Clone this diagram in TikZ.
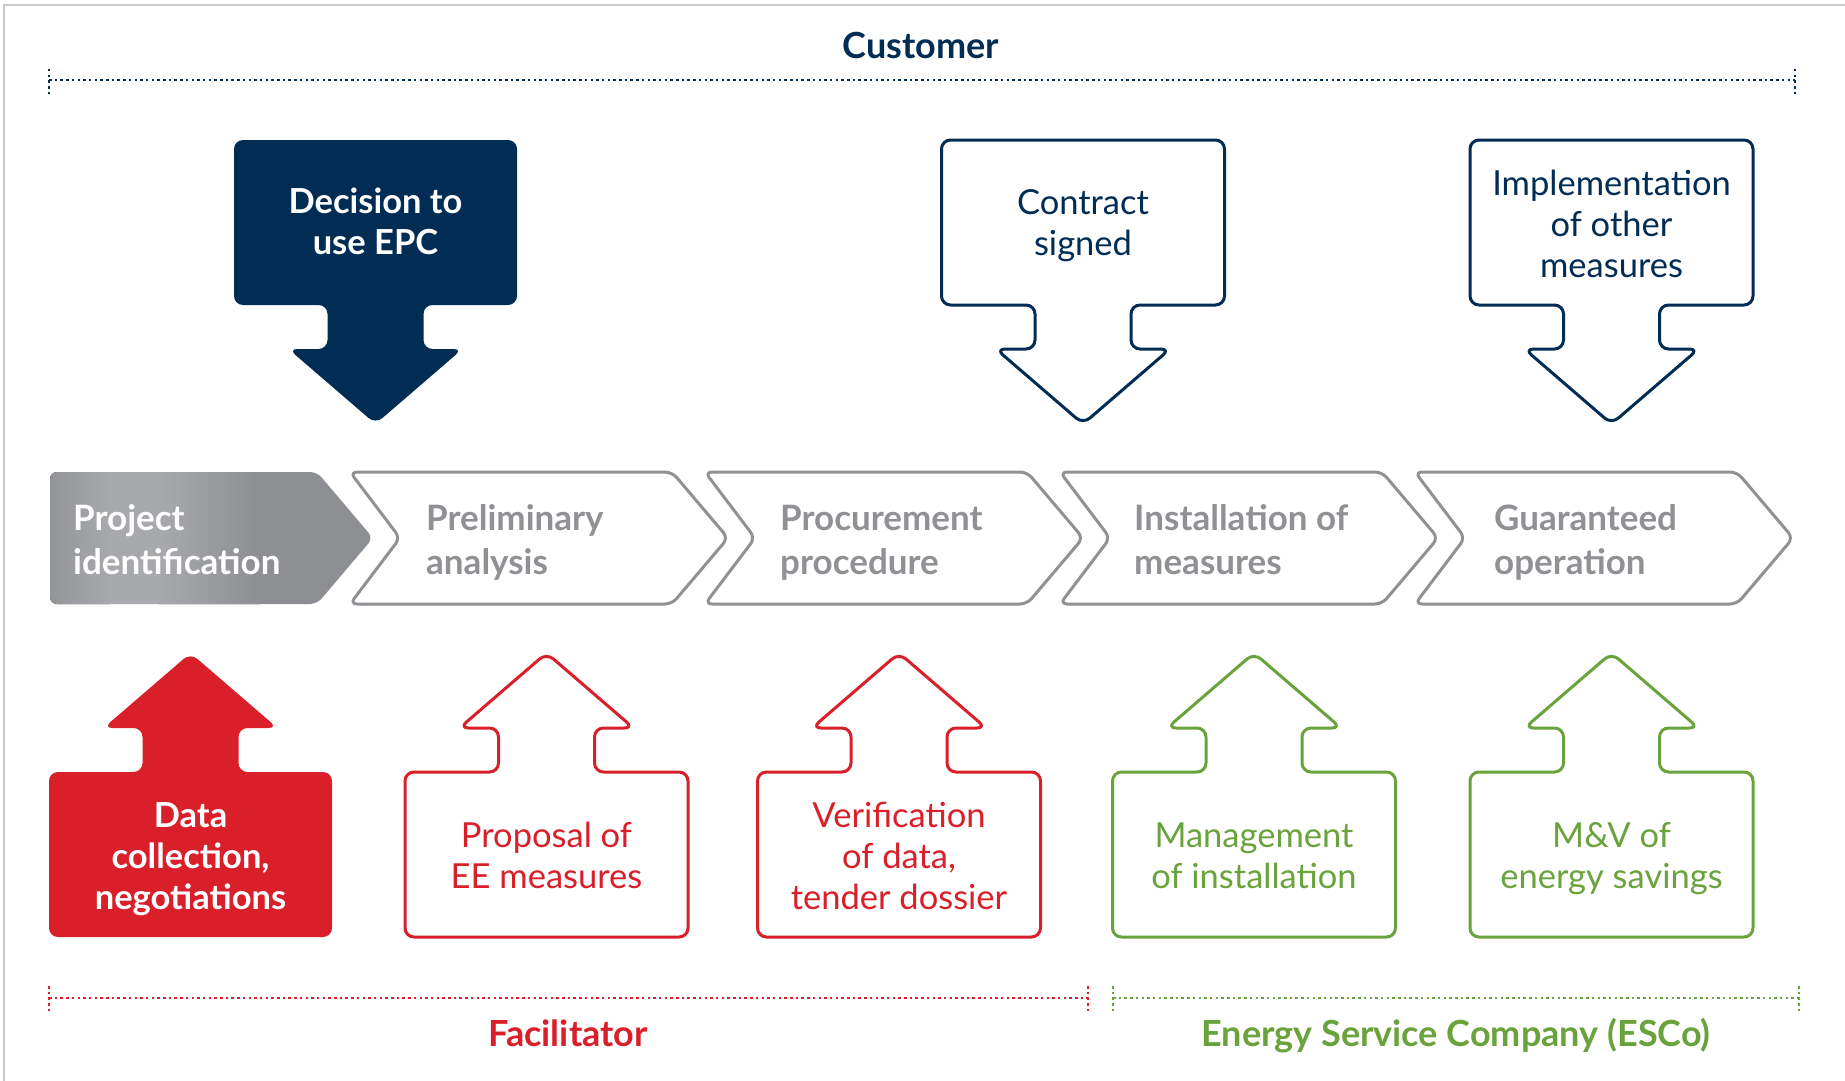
\documentclass[tikz,border=0pt]{standalone}
\usepackage{fontspec}
\setmainfont{Lato}
\definecolor{navy}{HTML}{012D55}
\definecolor{ered}{HTML}{D9202A}
\definecolor{egreen}{HTML}{6AA33C}
\definecolor{cgray}{HTML}{909195}
\definecolor{bgray}{HTML}{C9C9C9}
\definecolor{pg1}{HTML}{939498}
\definecolor{pg2}{HTML}{A8A9AC}
\definecolor{pg3}{HTML}{8E8F93}
\usetikzlibrary{calc}
\begin{document}
\begin{tikzpicture}[x=1pt,y=-1pt,
  outl/.style={line width=3pt, line join=round},
  downbox/.pic={\path[pic actions, rounded corners=9pt] (-141.5,0) -- (141.5,0) -- (141.5,165) -- (48,165) -- (48,209) -- (87,209) -- (0,284) -- (-87,209) -- (-48,209) -- (-48,165) -- (-141.5,165) -- cycle;},
  upbox/.pic={\path[pic actions, rounded corners=9pt] (0,0) -- (87,75) -- (48,75) -- (48,119) -- (141.5,119) -- (141.5,284) -- (-141.5,284) -- (-141.5,119) -- (-48,119) -- (-48,75) -- (-87,75) -- cycle;},
  chev/.pic={\path[pic actions, rounded corners=7pt] (0,0) -- (322,0) -- (378,66) -- (322,132) -- (0,132) -- (50,66) -- cycle;},
  boxlbl/.style={align=center, inner sep=0pt, font=\fontsize{34.5}{41}\selectfont},
  boxlblb/.style={align=center, inner sep=0pt, font=\fontsize{34.5}{41}\selectfont\bfseries},
  chevlbl/.style={align=left, anchor=west, inner sep=0pt, text=cgray, font=\fontsize{35}{44}\selectfont\bfseries},
  title/.style={inner sep=0pt, anchor=base, font=\fontsize{36}{40}\selectfont\bfseries},
  dotline/.style={line width=2.3pt, dash pattern=on 2.5pt off 3.2pt},
]
\useasboundingbox (0,0) rectangle (1845,1081);
\fill[white] (0,0) rectangle (1845,1081);
% frame
\draw[bgray, line width=2.5pt] (4,1081) -- (4,5) -- (1845,5);

% Customer
\node[title, text=navy] (customer) at (921,59) {Customer};
\coordinate (cl) at (49,80);
\coordinate (cr) at (1795,80);
\draw[dotline, navy] (cl) -- (cr);
\draw[dotline, navy] ([yshift=11pt]cl) -- ([yshift=-14pt]cl);
\draw[dotline, navy] ([yshift=11pt]cr) -- ([yshift=-14pt]cr);

% top boxes
\pic[fill=navy] at (375.5,140) {downbox};
\node[boxlblb, text=white] (decision) at (375.5,226) {Decision to\strut\\use EPC\strut};
\pic[outl, draw=navy, fill=white] at (1083,140) {downbox};
\node[boxlbl, text=navy] (contract) at (1083,227) {Contract\strut\\signed\strut};
\pic[outl, draw=navy, fill=white] at (1611.5,140) {downbox};
\node[boxlbl, text=navy] (implement) at (1611.5,228) {Implementation\strut\\of other\strut\\measures\strut};

% chevrons
\begin{scope}
\clip[rounded corners=7pt] (50,472) -- (317,472) -- (373,538) -- (317,604) -- (50,604) -- cycle;
\fill[left color=pg1, right color=pg2, shading=axis] (48,470) rectangle (110,606);
\fill[pg2] (109,470) rectangle (160,606);
\fill[left color=pg2, right color=pg3, shading=axis] (159,470) rectangle (260,606);
\fill[pg3] (259,470) rectangle (376,606);
\end{scope}
\node[chevlbl, text=white] (projid) at (73,544) {Project\strut\\identification\strut};
\pic[outl, draw=cgray, fill=white] at (350,472) {chev};
\node[chevlbl] (prelim) at (426,544) {Preliminary\strut\\analysis\strut};
\pic[outl, draw=cgray, fill=white] at (705,472) {chev};
\node[chevlbl] (procure) at (780,544) {Procurement\strut\\procedure\strut};
\pic[outl, draw=cgray, fill=white] at (1060,472) {chev};
\node[chevlbl] (install) at (1134,544) {Installation of\strut\\measures\strut};
\pic[outl, draw=cgray, fill=white] at (1415,472) {chev};
\node[chevlbl] (guarant) at (1494,544) {Guaranteed\strut\\operation\strut};

% bottom boxes
\pic[fill=ered] at (190.5,653) {upbox};
\node[boxlblb, text=white] (datacoll) at (190.5,860) {Data\strut\\collection,\strut\\negotiations\strut};
\pic[outl, draw=ered, fill=white] at (546.5,653) {upbox};
\node[boxlbl, text=ered] (proposal) at (546.5,860) {Proposal of\strut\\EE measures\strut};
\pic[outl, draw=ered, fill=white] at (899,653) {upbox};
\node[boxlbl, text=ered] (verif) at (899,860) {Verification\strut\\of data,\strut\\tender dossier\strut};
\pic[outl, draw=egreen, fill=white] at (1254,653) {upbox};
\node[boxlbl, text=egreen] (manage) at (1254,860) {Management\strut\\of installation\strut};
\pic[outl, draw=egreen, fill=white] at (1611.5,653) {upbox};
\node[boxlbl, text=egreen] (mv) at (1611.5,860) {M\&V of\strut\\energy savings\strut};

% Facilitator
\coordinate (fl) at (49,998);
\coordinate (fr) at (1088,998);
\draw[dotline, ered] (fl) -- (fr);
\draw[dotline, ered] ([yshift=12pt]fl) -- ([yshift=-14pt]fl);
\draw[dotline, ered] ([yshift=12pt]fr) -- ([yshift=-14pt]fr);
\node[title, text=ered] (facil) at (568,1046) {Facilitator};

% ESCo
\coordinate (el) at (1113,998);
\coordinate (er) at (1799,998);
\draw[dotline, egreen] (el) -- (er);
\draw[dotline, egreen] ([yshift=12pt]el) -- ([yshift=-14pt]el);
\draw[dotline, egreen] ([yshift=12pt]er) -- ([yshift=-14pt]er);
\node[title, text=egreen] (esco) at (1456,1046) {Energy Service Company (ESCo)};
\end{tikzpicture}
\end{document}
